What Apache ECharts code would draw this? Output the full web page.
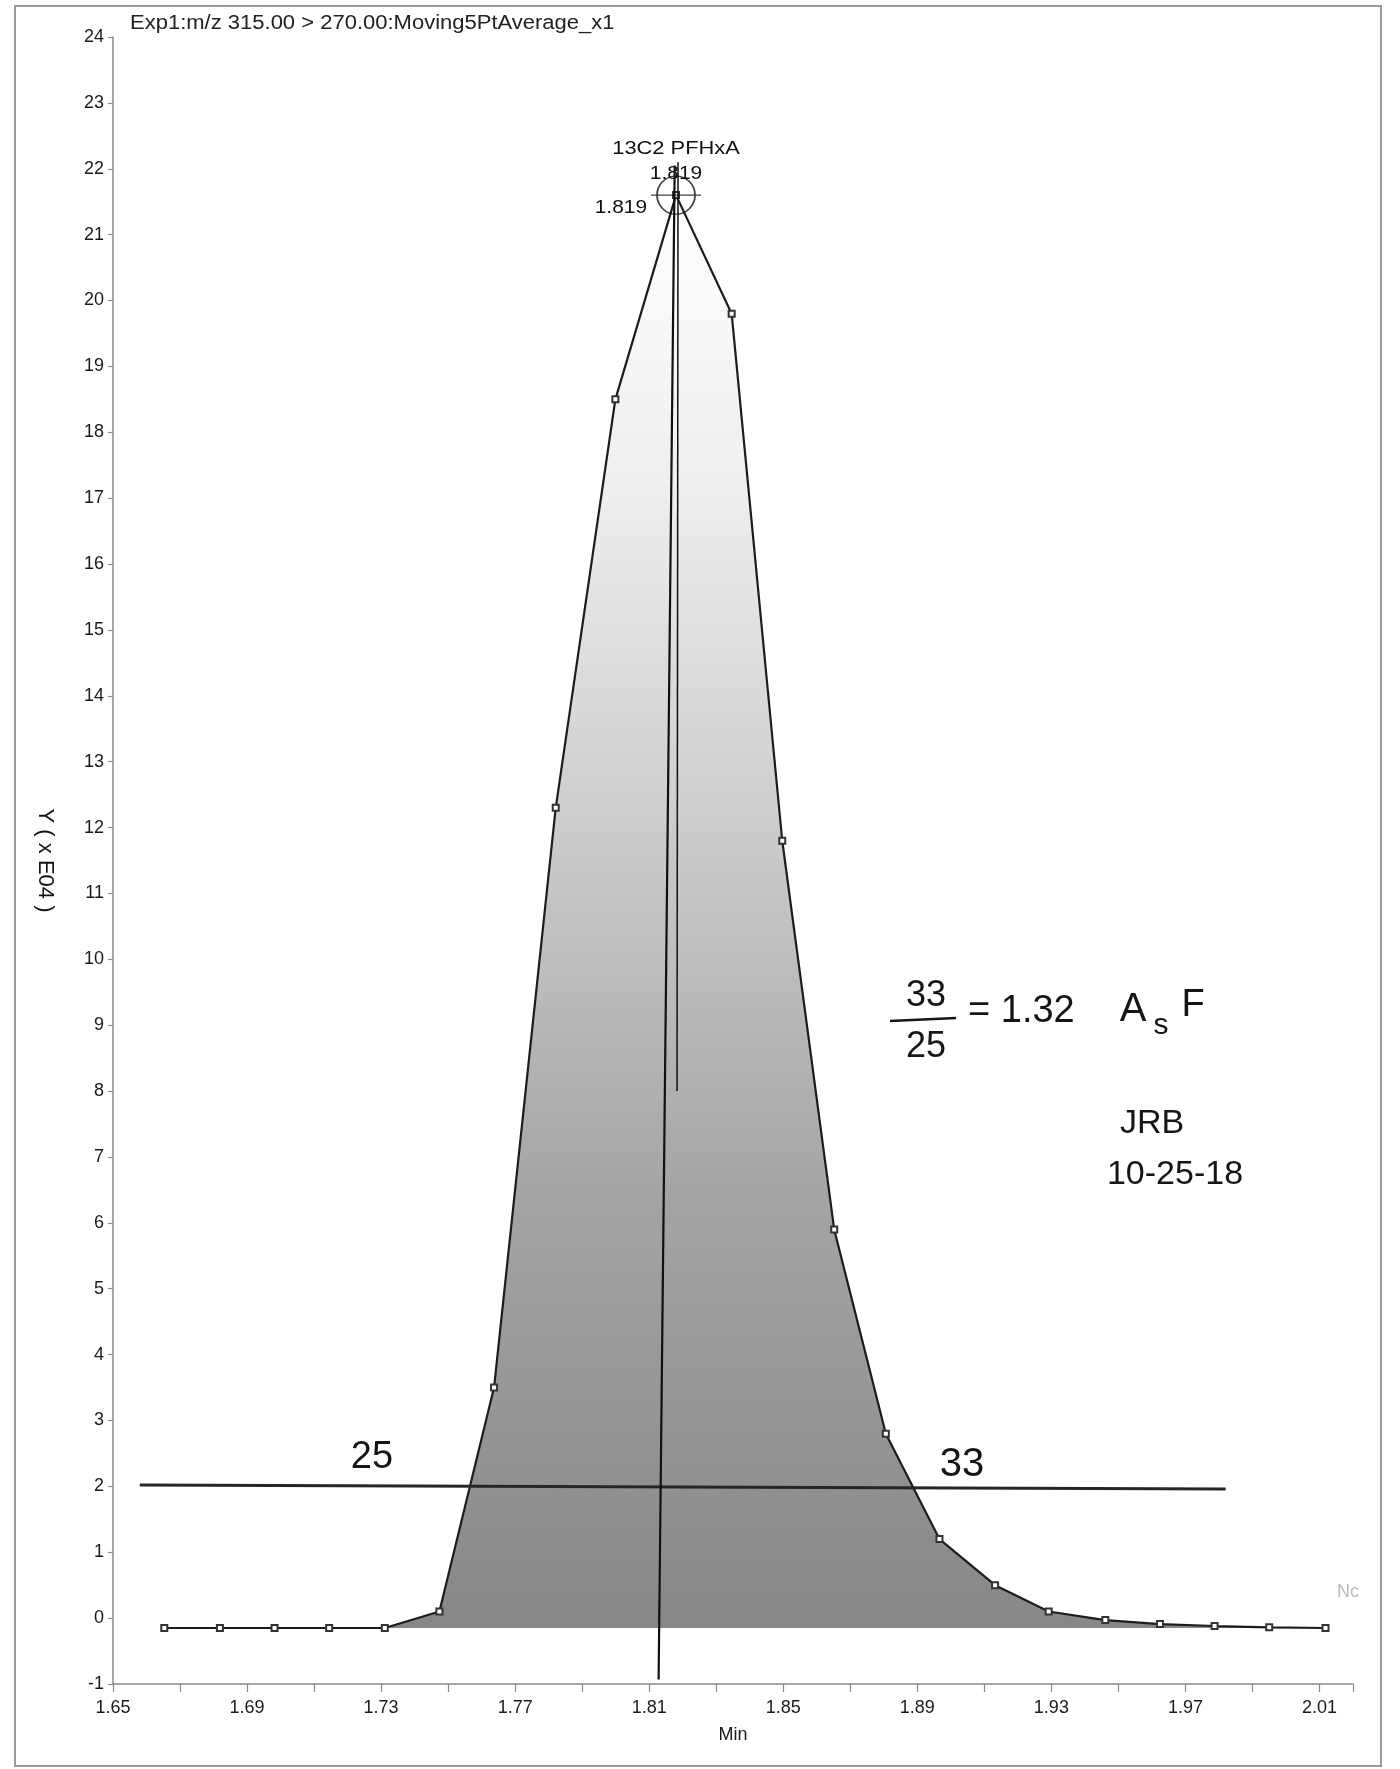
<!DOCTYPE html>
<html>
<head>
<meta charset="utf-8">
<script src="https://cdn.jsdelivr.net/npm/echarts@6/dist/echarts.min.js"></script>
<style>
html,body{margin:0;padding:0;background:#ffffff;}
#chart{width:1400px;height:1769px;}
</style>
</head>
<body>
<div id="chart"></div>
<script>
// ---- data ----
const retentionTimes = [1.6653, 1.6819, 1.6982, 1.7145, 1.7311, 1.7474, 1.7637, 1.7821, 1.7999, 1.8180,
                        1.8346, 1.8497, 1.8652, 1.8806, 1.8966, 1.9132, 1.9292, 1.9461, 1.9624, 1.9787,
                        1.9950, 2.0118];
const intensities = [-0.15, -0.15, -0.15, -0.15, -0.15, 0.10, 3.50, 12.30, 18.50, 21.60,
                     19.80, 11.80, 5.90, 2.80, 1.20, 0.50, 0.10, -0.03, -0.09, -0.12,
                     -0.14, -0.15];
const baselineLevel = -0.15;
// hand-drawn 10% height line and perpendicular from apex
const halfLineX = [1.658, 1.982];
const halfLineY = [2.02, 1.96];
const apexLineX = [1.8176, 1.8128];
const apexLineY = [22.05, -0.93];
const rtMarkerX = [1.8186, 1.8183];
const rtMarkerY = [22.1, 8.0];
// axes
const xTicks = [1.65, 1.69, 1.73, 1.77, 1.81, 1.85, 1.89, 1.93, 1.97, 2.01];
const xMax = 2.02;
const yTicks = [-1, 0, 1, 2, 3, 4, 5, 6, 7, 8, 9, 10, 11, 12, 13, 14, 15, 16, 17, 18, 19, 20, 21, 22, 23, 24];
// texts
const titleText = 'Exp1:m/z 315.00 > 270.00:Moving5PtAverage_x1';
const peakName = '13C2 PFHxA';
const peakRT = '1.819';

const chromData = retentionTimes.map((t, i) => [t, intensities[i]]);
let peakIdx = 0;
intensities.forEach((v, i) => { if (v > intensities[peakIdx]) peakIdx = i; });

const chart = echarts.init(document.getElementById('chart'), null, {renderer: 'canvas'});
const axisGray = '#8a8a8a';
const font = 'Liberation Sans, Arial, sans-serif';
const hand = 'Liberation Sans, DejaVu Sans, sans-serif';

chart.setOption({
  animation: false,
  backgroundColor: '#ffffff',
  grid: {left: 113, right: 47, top: 37, bottom: 85},
  xAxis: {
    type: 'value',
    min: xTicks[0], max: xMax,
    interval: +(xTicks[1] - xTicks[0]).toFixed(4),
    axisLine: {show: true, onZero: false, lineStyle: {color: axisGray, width: 1.5}},
    axisTick: {show: true, length: 8, lineStyle: {color: axisGray, width: 1.2}},
    minorTick: {show: true, splitNumber: 2, length: 8, lineStyle: {color: axisGray, width: 1.2}},
    splitLine: {show: false},
    minorSplitLine: {show: false},
    axisLabel: {color: '#1a1a1a', fontSize: 18, fontFamily: font, margin: 15,
      showMaxLabel: false, formatter: v => v.toFixed(2)},
    name: 'Min', nameLocation: 'middle', nameGap: 42,
    nameTextStyle: {color: '#1a1a1a', fontSize: 18, fontFamily: font}
  },
  yAxis: {
    type: 'value',
    min: yTicks[0], max: yTicks[yTicks.length - 1], interval: yTicks[1] - yTicks[0],
    axisLine: {show: true, onZero: false, lineStyle: {color: axisGray, width: 1.5}},
    axisTick: {show: true, length: 5, lineStyle: {color: axisGray, width: 1.2}},
    splitLine: {show: false},
    axisLabel: {color: '#1a1a1a', fontSize: 18, fontFamily: font, margin: 9},
    name: 'Y ( x E04 )', nameLocation: 'middle', nameRotate: -90, nameGap: 57,
    nameTextStyle: {color: '#111', fontSize: 22, fontFamily: font}
  },
  series: [
    {
      type: 'line',
      data: chromData,
      symbol: 'emptyRect',
      symbolSize: 6,
      showSymbol: true,
      lineStyle: {color: '#1c1c1c', width: 2.2},
      itemStyle: {color: '#333333', borderWidth: 1.2},
      areaStyle: {
        origin: baselineLevel,
        opacity: 1,
        color: {type: 'linear', x: 0, y: 0, x2: 0, y2: 1, colorStops: [
          {offset: 0, color: '#ffffff'},
          {offset: 0.2, color: '#efefef'},
          {offset: 0.45, color: '#cbcbcb'},
          {offset: 0.7, color: '#a4a4a4'},
          {offset: 1, color: '#878787'}
        ]}
      },
      z: 2
    },
    {
      type: 'line',
      data: halfLineX.map((x, i) => [x, halfLineY[i]]),
      symbol: 'none',
      lineStyle: {color: '#262626', width: 3},
      z: 3
    },
    {
      type: 'line',
      data: apexLineX.map((x, i) => [x, apexLineY[i]]),
      symbol: 'none',
      lineStyle: {color: '#111', width: 2.2},
      z: 3
    },
    {
      type: 'line',
      data: rtMarkerX.map((x, i) => [x, rtMarkerY[i]]),
      symbol: 'none',
      lineStyle: {color: '#111', width: 1.5},
      z: 3
    },
    {
      type: 'scatter',
      data: [chromData[peakIdx]],
      symbol: 'path://M-19,0 A19,19 0 1 1 19,0 A19,19 0 1 1 -19,0 Z M-25,0 L25,0',
      symbolSize: [50, 38],
      itemStyle: {color: 'rgba(0,0,0,0)', borderColor: '#111', borderWidth: 1.6},
      z: 4
    }
  ],
  graphic: [
    {type: 'rect', shape: {x: 15, y: 6, width: 1366, height: 1760},
     style: {fill: 'none', stroke: '#9a9a9a', lineWidth: 2}, silent: true},
    {type: 'text', x: 130, y: 23, scaleX: 1.1,
     style: {text: titleText, fill: '#222', font: '20px ' + font, textVerticalAlign: 'middle', textAlign: 'left'}},
    {type: 'text', x: 676, y: 149, scaleX: 1.15,
     style: {text: peakName, fill: '#111', font: '19px ' + font, textAlign: 'center', textVerticalAlign: 'middle'}},
    {type: 'text', x: 676, y: 174, scaleX: 1.1,
     style: {text: peakRT, fill: '#111', font: '19px ' + font, textAlign: 'center', textVerticalAlign: 'middle'}},
    {type: 'text', x: 647, y: 208, scaleX: 1.1,
     style: {text: peakRT, fill: '#111', font: '19px ' + font, textAlign: 'right', textVerticalAlign: 'middle'}},
    {type: 'text', x: 1348, y: 1592,
     style: {text: 'Nc', fill: '#bbbbbb', font: '18px ' + font, textAlign: 'center', textVerticalAlign: 'middle'}},
    // handwritten annotations
    {type: 'text', x: 372, y: 1458,
     style: {text: '25', fill: '#151515', font: '38px ' + hand, textAlign: 'center', textVerticalAlign: 'middle'}},
    {type: 'text', x: 962, y: 1465,
     style: {text: '33', fill: '#151515', font: '40px ' + hand, textAlign: 'center', textVerticalAlign: 'middle'}},
    {type: 'text', x: 926, y: 996,
     style: {text: '33', fill: '#151515', font: '36px ' + hand, textAlign: 'center', textVerticalAlign: 'middle'}},
    {type: 'line', shape: {x1: 890, y1: 1021, x2: 956, y2: 1018}, style: {stroke: '#151515', lineWidth: 2.5}},
    {type: 'text', x: 926, y: 1047,
     style: {text: '25', fill: '#151515', font: '36px ' + hand, textAlign: 'center', textVerticalAlign: 'middle'}},
    {type: 'text', x: 968, y: 1012,
     style: {text: '= 1.32', fill: '#151515', font: '38px ' + hand, textAlign: 'left', textVerticalAlign: 'middle'}},
    {type: 'text', x: 1133, y: 1010,
     style: {text: 'A', fill: '#151515', font: '40px ' + hand, textAlign: 'center', textVerticalAlign: 'middle'}},
    {type: 'text', x: 1161, y: 1026,
     style: {text: 's', fill: '#151515', font: '30px ' + hand, textAlign: 'center', textVerticalAlign: 'middle'}},
    {type: 'text', x: 1193, y: 1006,
     style: {text: 'F', fill: '#151515', font: '38px ' + hand, textAlign: 'center', textVerticalAlign: 'middle'}},
    {type: 'text', x: 1152, y: 1124,
     style: {text: 'JRB', fill: '#151515', font: '34px ' + hand, textAlign: 'center', textVerticalAlign: 'middle'}},
    {type: 'text', x: 1175, y: 1175,
     style: {text: '10-25-18', fill: '#151515', font: '34px ' + hand, textAlign: 'center', textVerticalAlign: 'middle'}}
  ]
});
</script>
</body>
</html>
